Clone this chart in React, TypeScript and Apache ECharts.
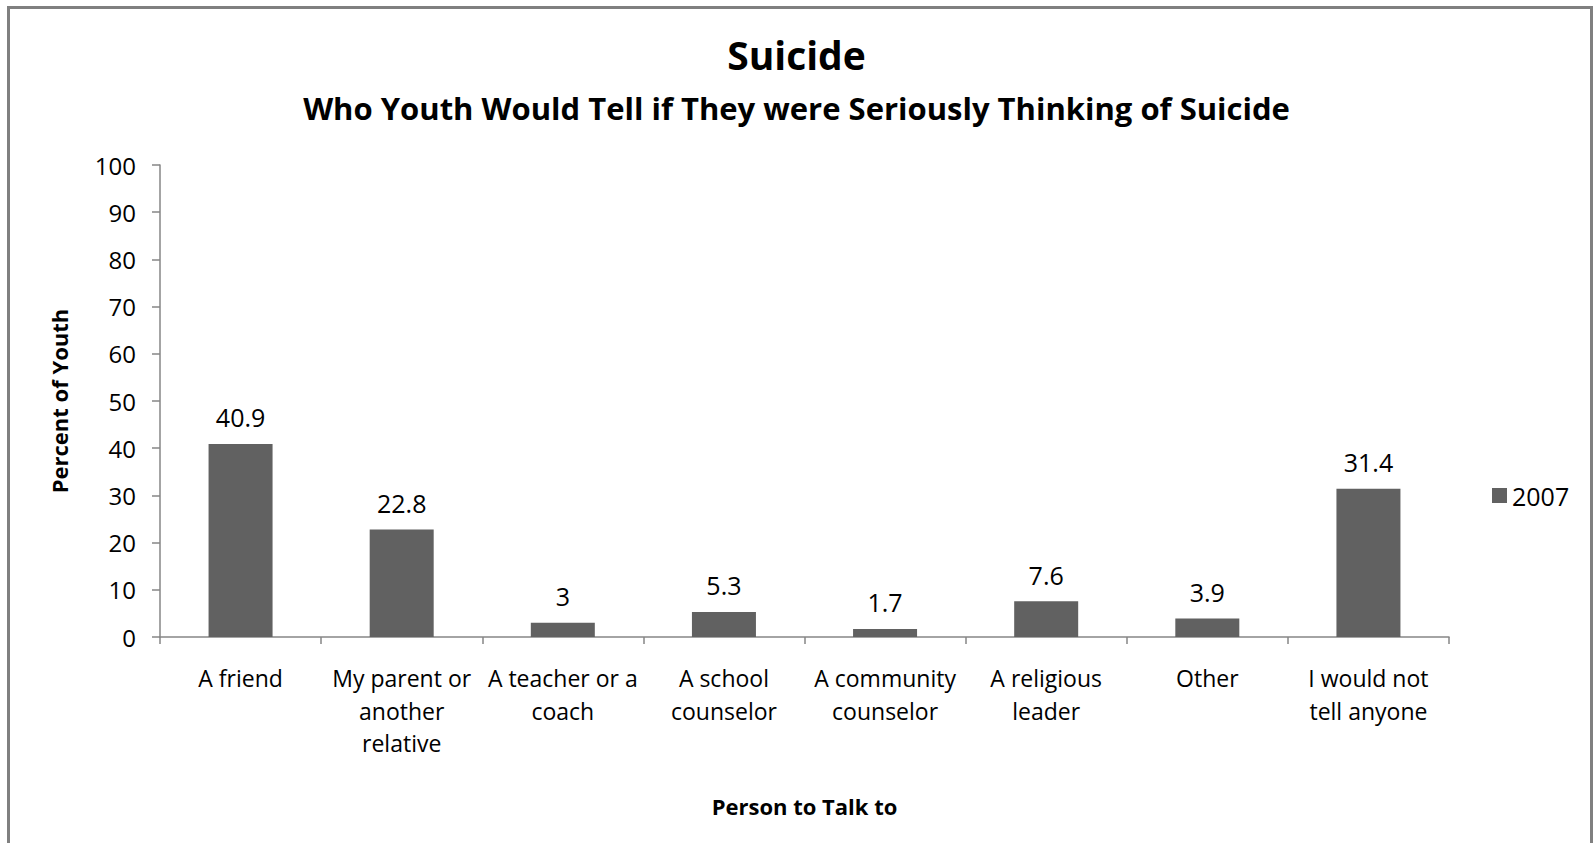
import React, { useEffect, useRef } from "react";
import * as echarts from "echarts";

const categories = [
  "A friend",
  "My parent or\nanother\nrelative",
  "A teacher or a\ncoach",
  "A school\ncounselor",
  "A community\ncounselor",
  "A religious\nleader",
  "Other",
  "I would not\ntell anyone",
];
const values2007 = [40.9, 22.8, 3, 5.3, 1.7, 7.6, 3.9, 31.4];
const seriesName = "2007";
const titleText = "Suicide";
const subtitleText = "Who Youth Would Tell if They were Seriously Thinking of Suicide";
const yAxisTitle = "Percent of Youth";
const xAxisTitle = "Person to Talk to";

const FONT = "'Open Sans', 'Noto Sans', sans-serif";

export default function App() {
  const ref = useRef<HTMLDivElement>(null);
  useEffect(() => {
    if (!ref.current) return;
    const chart = echarts.init(ref.current, null, { renderer: "svg" });
    chart.setOption({
      animation: false,
      backgroundColor: "#ffffff",
      textStyle: { fontFamily: FONT, color: "#000" },
      title: [
        {
          text: titleText,
          left: "center",
          top: 30,
          textStyle: { fontSize: 39, fontWeight: "bold", color: "#000", fontFamily: FONT },
        },
        {
          text: subtitleText,
          left: "center",
          top: 87,
          textStyle: { fontSize: 31, fontWeight: "bold", color: "#000", fontFamily: FONT },
        },
      ],
      legend: {
        left: 1487,
        top: 478,
        orient: "vertical",
        icon: "rect",
        itemWidth: 15,
        itemHeight: 15,
        itemGap: 6,
        textStyle: { fontSize: 25, color: "#000", fontFamily: FONT },
        data: [seriesName],
      },
      grid: { left: 160, right: 144, top: 165, bottom: 206, containLabel: false },
      xAxis: {
        type: "category",
        data: categories,
        name: xAxisTitle,
        nameLocation: "middle",
        nameGap: 158,
        nameTextStyle: { fontSize: 22, fontWeight: "bold", color: "#000", fontFamily: FONT },
        axisLine: { lineStyle: { color: "#868686", width: 1.5 } },
        axisTick: { show: true, alignWithLabel: false, length: 7, lineStyle: { color: "#868686", width: 1.5 } },
        axisLabel: {
          interval: 0,
          fontSize: 23,
          lineHeight: 32.5,
          margin: 25,
          color: "#000",
          fontFamily: FONT,
        },
        splitLine: { show: false },
      },
      yAxis: {
        type: "value",
        min: 0,
        max: 100,
        interval: 10,
        name: yAxisTitle,
        nameLocation: "middle",
        nameGap: 90,
        nameRotate: 90,
        nameTextStyle: { fontSize: 22, fontWeight: "bold", color: "#000", fontFamily: FONT },
        axisLine: { show: true, lineStyle: { color: "#868686", width: 1.5 } },
        axisTick: { show: true, length: 8, lineStyle: { color: "#868686", width: 1.5 } },
        axisLabel: { fontSize: 24, margin: 24, color: "#000", fontFamily: FONT },
        splitLine: { show: false },
      },
      series: [
        {
          name: seriesName,
          type: "bar",
          data: values2007,
          barWidth: 64,
          itemStyle: { color: "#616161" },
          label: {
            show: true,
            position: "top",
            distance: 14,
            fontSize: 25,
            color: "#000",
            fontFamily: FONT,
          },
        },
      ],
      graphic: [
        {
          type: "rect",
          shape: { x: 8.5, y: 7.5, width: 1583, height: 900 },
          style: { fill: "none", stroke: "#808080", lineWidth: 3 },
          silent: true,
        },
      ],
    });
    return () => chart.dispose();
  }, []);
  return (
    <div
      ref={ref}
      style={{ position: "absolute", left: 0, top: 0, width: 1593, height: 843 }}
    />
  );
}
